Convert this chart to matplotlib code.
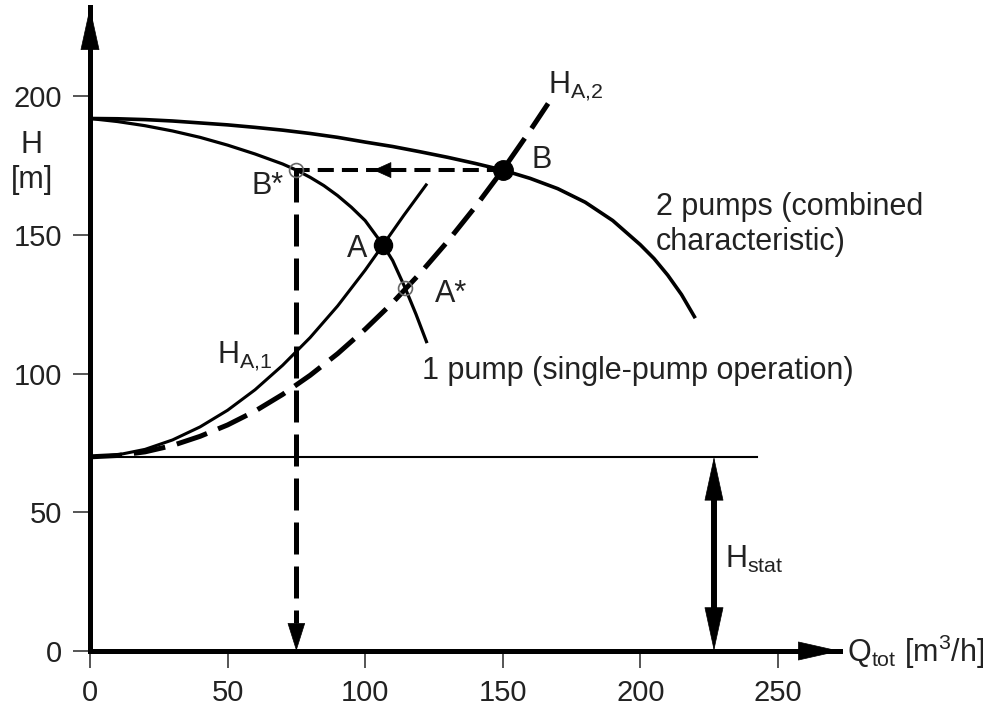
import numpy as np
import matplotlib
matplotlib.use('Agg')
import matplotlib.pyplot as plt

plt.rcParams['font.family'] = ['Liberation Sans', 'DejaVu Sans']
plt.rcParams['mathtext.fontset'] = 'custom'
plt.rcParams['mathtext.rm'] = 'Liberation Sans'
plt.rcParams['mathtext.it'] = 'Liberation Sans'

# --- data ---
# 2 pumps (combined characteristic)
q_two = [0, 10, 20, 30, 40, 50, 60, 70, 80, 90, 100, 110, 120, 130, 140, 150,
         160, 170, 180, 190, 200, 205, 210, 215, 220]
h_two = [192, 191.9, 191.6, 191.1, 190.4, 189.7, 188.8, 187.8, 186.6, 185.2, 183.5,
         181.9, 180, 178, 175.8, 173.4, 170.4, 166.7, 161.8, 155.2, 146.5, 141.5,
         135.5, 128.5, 120]

# 1 pump (single-pump operation)
q_one = [0, 10, 20, 30, 40, 50, 60, 70, 75, 80, 85, 90, 95, 100, 106.5, 110,
         114.5, 118.5, 122.5]
h_one = [192, 190.9, 189.4, 187.5, 185.2, 182.4, 179.2, 175.6, 173.4, 170.8, 167.8,
         164.2, 160, 155.2, 146.4, 140.8, 131, 121.4, 111]

# system curve H_A,1 (solid)
q_a1 = [0, 10, 20, 30, 40, 50, 60, 70, 80, 90, 100, 106.5, 114, 122.5]
h_a1 = [70, 70.7, 72.7, 76.1, 80.8, 86.8, 94.2, 103, 113, 124.4, 137.3, 146.4,
        157, 168.5]

# system curve H_A,2 (dashed)
q_a2 = [0, 10, 20, 30, 40, 50, 60, 70, 80, 90, 100, 110, 120, 130, 140, 150,
        160, 166.5]
h_a2 = [70, 70.5, 71.8, 74.1, 77.4, 81.5, 86.5, 92.5, 99.4, 107.2, 116, 125.6,
        136.2, 147.7, 160.1, 173.4, 187.7, 197.4]

h_stat = 70
pt_A = (106.5, 146.4)
pt_B = (150, 173.4)
pt_Bs = (75, 173.4)
pt_As = (114.5, 131)

x_ticks = [0, 50, 100, 150, 200, 250]
y_ticks = [0, 50, 100, 150, 200]

txt = '#222222'

fig = plt.figure(figsize=(9.83, 7.08), dpi=100)
ax = fig.add_axes([90 / 983, 57 / 708, 750 / 983, 644 / 708])
xmax, ymax = 272.6, 232.2
ax.set_xlim(0, xmax)
ax.set_ylim(0, ymax)

for s in ['top', 'right']:
    ax.spines[s].set_visible(False)
for s in ['left', 'bottom']:
    ax.spines[s].set_linewidth(3.6)

ax.set_xticks(x_ticks)
ax.set_yticks(y_ticks)
ax.tick_params(direction='out', length=12, width=1.4, color='#555555',
               labelsize=21, labelcolor=txt)
ax.tick_params(axis='x', pad=8)
ax.tick_params(axis='y', pad=8)

def head(xy, xytext, hl, hw):
    ax.annotate('', xy=xy, xytext=xytext, annotation_clip=False,
                arrowprops=dict(arrowstyle='-|>,head_length=%g,head_width=%g' % (hl, hw),
                                mutation_scale=1, lw=0.5, color='k',
                                shrinkA=0, shrinkB=0))

# axis arrows
head((xmax, 0), (xmax - 20, 0), 28.8, 6.5)
head((0, ymax), (0, ymax - 20), 29.5, 6.5)

# static head line
ax.plot([0, 242.5], [h_stat, h_stat], color='k', lw=1.5, clip_on=False)

# curves
ax.plot(q_two, h_two, color='k', lw=2.6, solid_capstyle='butt', clip_on=False)
ax.plot(q_one, h_one, color='k', lw=2.3, solid_capstyle='butt', clip_on=False)
ax.plot(q_a1, h_a1, color='k', lw=2.2, solid_capstyle='butt', clip_on=False)
ax.plot(q_a2, h_a2, color='k', lw=3.6, dashes=(6.4, 2.4), clip_on=False)

# B -> B* dashed with arrow
ax.plot([pt_B[0], pt_Bs[0]], [pt_B[1], pt_Bs[1]], color='k', lw=2.9, dashes=(4, 2))
head((103, pt_B[1]), (112, pt_B[1]), 12, 5.4)

# B* down to axis
ax.plot([pt_Bs[0], pt_Bs[0]], [pt_Bs[1], 10], color='k', lw=3.6, dashes=(6.4, 2.4))
head((pt_Bs[0], 0), (pt_Bs[0], 12), 19, 6)

# H_stat double arrow
q_stat = 226.8
ax.plot([q_stat, q_stat], [h_stat - 12, 12], color='k', lw=4.3, solid_capstyle='butt')
head((q_stat, h_stat), (q_stat, h_stat - 20), 30, 6.5)
head((q_stat, 0), (q_stat, 20), 30, 6.5)

# operating points
ax.plot(*pt_A, 'o', ms=13, color='k', zorder=5)
ax.plot(*pt_B, 'o', ms=14, color='k', zorder=5)
ax.plot(*pt_Bs, 'o', ms=10, mfc='none', mec='#666666', mew=1.2, zorder=5)
ax.plot(*pt_As, 'o', ms=10, mfc='none', mec='#666666', mew=1.2, zorder=5)

fs = 22
ax.text(166.5, 201.1, r'H$_{\mathregular{A{,}2}}$', fontsize=fs, color=txt, va='baseline')
ax.text(160.5, 174.0, 'B', fontsize=fs, color=txt, va='baseline')
ax.text(58.8, 164.8, 'B*', fontsize=fs, color=txt, va='baseline')
ax.text(93.3, 142.2, 'A', fontsize=fs, color=txt, va='baseline')
ax.text(125.4, 125.9, 'A*', fontsize=fs, color=txt, va='baseline')
ax.text(205.7, 157.2, '2 pumps (combined', fontsize=fs, color=txt, va='baseline')
ax.text(205.7, 144.6, 'characteristic)', fontsize=fs, color=txt, va='baseline')
ax.text(120.6, 98.0, '1 pump (single-pump operation)', fontsize=fs, color=txt, va='baseline')
ax.text(46.0, 103.7, r'H$_{\mathregular{A{,}1}}$', fontsize=fs, color=txt, va='baseline')
ax.text(230.8, 29.8, r'H$_{\mathregular{stat}}$', fontsize=fs, color=txt, va='baseline')
ax.text(275.1, -3.9, r'Q$_{\mathregular{tot}}$ [m$^{\mathregular{3}}$/h]', fontsize=fs,
        color=txt, va='baseline')
ax.text(-21.1, 179.6, 'H', fontsize=fs, color=txt, va='baseline', ha='center')
ax.text(-21.1, 167.0, '[m]', fontsize=fs, color=txt, va='baseline', ha='center')

fig.savefig('out.png', dpi=100)
